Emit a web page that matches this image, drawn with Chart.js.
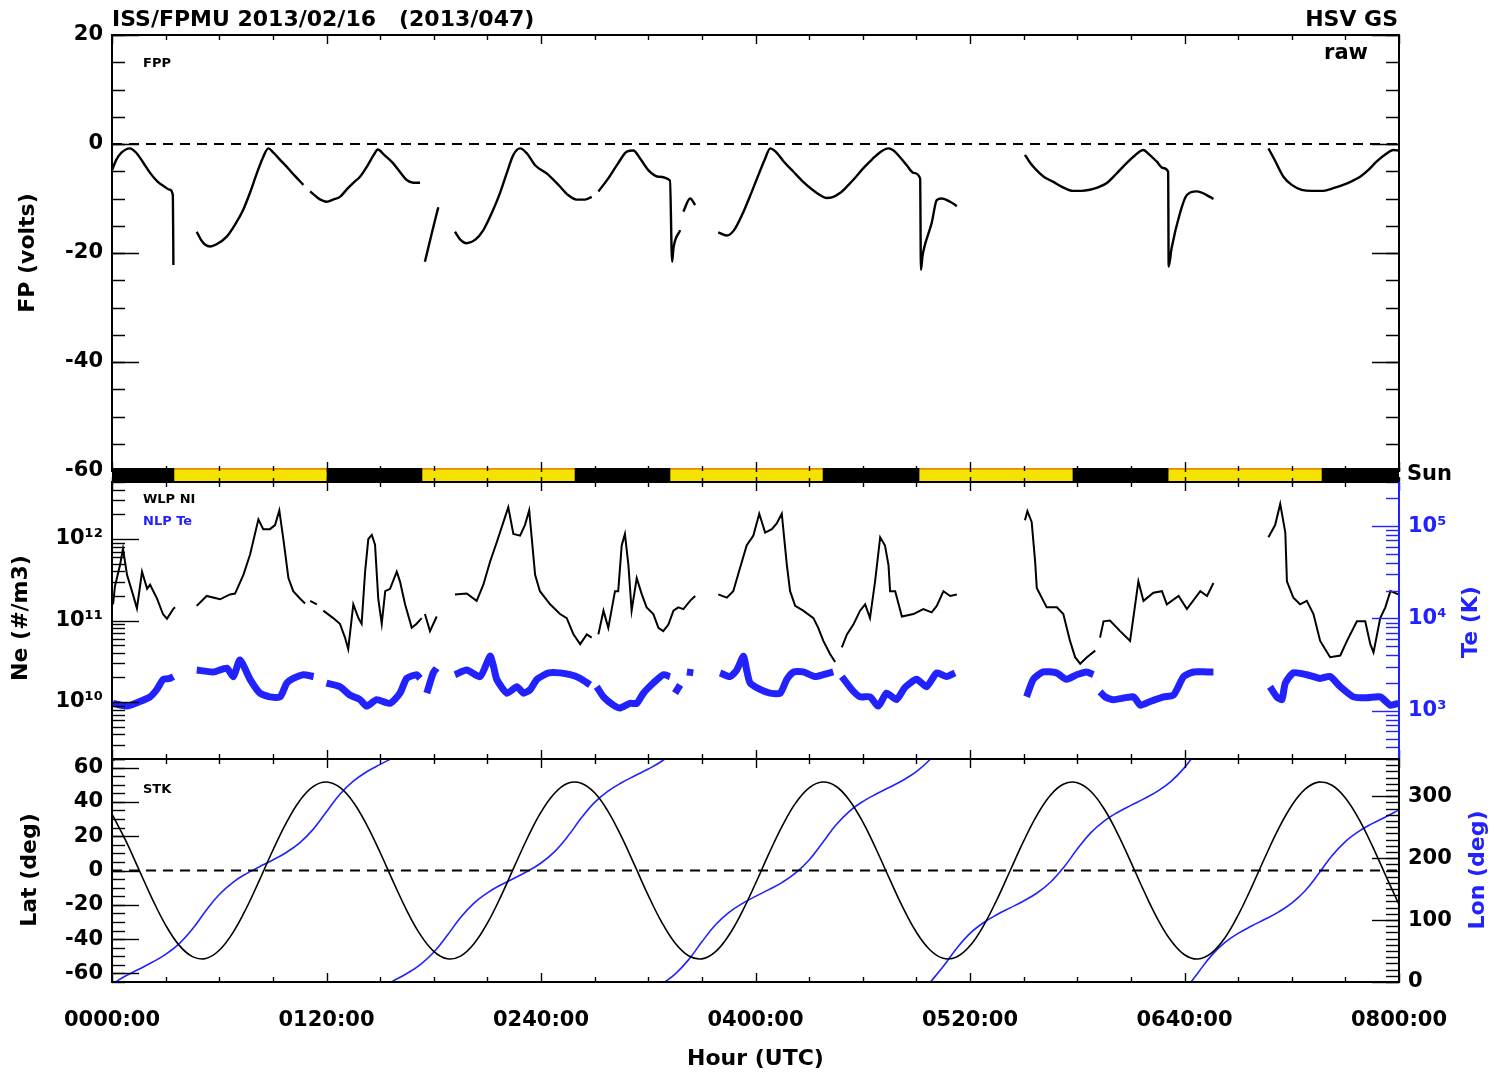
<!DOCTYPE html>
<html>
<head>
<meta charset="utf-8">
<title>ISS/FPMU 2013/02/16</title>
<script src="https://cdn.jsdelivr.net/npm/chart.js@4.4.1/dist/chart.umd.min.js"></script>
<style>
  html, body { margin: 0; padding: 0; background: #fff; }
  #wrap { position: relative; width: 1499px; height: 1077px; overflow: hidden;
          font-family: "DejaVu Sans", sans-serif; font-weight: bold; color: #000; }
  #wrap canvas { position: absolute; left: 0; top: 0; }
  .t { position: absolute; white-space: pre; line-height: 1; }
  .rot { transform: translate(-50%, -50%) rotate(-90deg); }
  .blue { color: #2222ff; }
</style>
</head>
<body>
<div id="wrap">
  <canvas id="fpChart" width="1499" height="1077"></canvas>
  <canvas id="neChart" width="1499" height="1077"></canvas>
  <canvas id="stkChart" width="1499" height="1077"></canvas>
  <canvas id="sunChart" width="1499" height="1077"></canvas>
  <div class="t" style="left:112px;top:8px;font-size:22px">ISS/FPMU 2013/02/16   (2013/047)</div>
  <div class="t" style="right:101px;top:8px;font-size:22px">HSV GS</div>
  <div class="t" style="right:131px;top:42px;font-size:21px">raw</div>
  <div class="t" style="left:143px;top:56px;font-size:13px">FPP</div>
  <div class="t" style="left:1407px;top:463px;font-size:21px">Sun</div>
  <div class="t" style="left:143px;top:492px;font-size:13px">WLP NI</div>
  <div class="t blue" style="left:143px;top:514px;font-size:13px">NLP Te</div>
  <div class="t" style="left:143px;top:782px;font-size:13px">STK</div>
  <div class="t rot" style="left:27px;top:253px;font-size:22px">FP (volts)</div>
  <div class="t rot" style="left:20px;top:618px;font-size:22px">Ne (#/m3)</div>
  <div class="t rot" style="left:29px;top:870px;font-size:22px">Lat (deg)</div>
  <div class="t rot blue" style="left:1470px;top:622px;font-size:22px">Te (K)</div>
  <div class="t rot blue" style="left:1477px;top:870px;font-size:22px">Lon (deg)</div>
</div>
<script>
// time axis, minutes after 0000 UTC
const T_MIN = 0, T_MAX = 480;
const timeTicks = [0, 80, 160, 240, 320, 400, 480];
const timeLabels = ['0000:00', '0120:00', '0240:00', '0400:00', '0520:00', '0640:00', '0800:00'];

// sunlit intervals (yellow part of the Sun bar)
const sunRise = [23.1, 115.6, 208.1, 301.0, 393.9];
const sunSet = [80.2, 172.7, 265.2, 358.4, 451.3];

// FPP floating potential (volts), null = data gap
const fpTime = [
  0, 1.5, 3.5, 6.7, 9.0, 11.5, 14.2, 17.0, 19.5, 21.6, 22.7, 22.9, null,
  31.6, 33.2, 34.8, 36.6, 39.0, 42.8, 46.0, 48.9, 51.5, 54.0, 56.2, 58.3, 60.2, 62.7, 65.2, 68.3, 71.4, null,
  73.9, 76.8, 78.6, 80.1, 82.5, 85.0, 88.0, 90.5, 92.5, 95.0, 97.5, 99.2, 101.5, 104.8, 107.5, 109.9, 112.4, 114.9, null,
  116.7, 119.2, 121.7, null,
  127.9, 129.8, 132.3, 135.4, 138.5, 141.6, 144.7, 147.2, 149.7, 152.2, 154.7, 157.8, 162.1, 166.5, 170.2, 173.3, 176.4, 178.9, null,
  181.4, 185.1, 188.8, 192.0, 194.4, 196.9, 200.0, 203.8, 208.1, 208.9, 209.4, 211.9, null,
  213.1, 215.6, 217.5, null,
  226.1, 229.3, 232.0, 235.0, 238.0, 241.0, 243.5, 245.5, 247.5, 250.5, 254.0, 257.5, 261.0, 264.5, 266.5, 268.5, 271.5, 274.5,
  277.5, 280.5, 283.5, 286.5, 289.5, 291.5, 293.5, 296.4, 299.0, 301.4, 301.7, 302.3, 303.2, 305.7, 307.6, 309.4, 312.6, 315.1, null,
  340.5, 342.5, 344.8, 347.5, 350.9, 354.5, 358.4, 361.5, 364.7, 368.0, 370.9, 374.5, 378.4, 381.5, 384.6, 387.0, 389.6, 392.0,
  393.9, 394.1, 395.2, 398.3, 400.8, 404.5, 409.5, 410.8, null,
  431.3, 433.5, 436.9, 440.0, 443.7, 447.5, 451.8, 455.5, 459.2, 462.5, 465.5, 468.5, 471.7, 475.0, 477.9, 480.0
];
const fpVolt = [
  -4.8, -3.0, -1.6, -0.8, -1.6, -3.3, -5.3, -6.9, -7.8, -8.4, -9.4, -22.2, null,
  -16.1, -17.6, -18.5, -18.8, -18.4, -17.0, -14.7, -12.1, -8.9, -5.4, -2.6, -0.8, -1.6, -2.9, -4.2, -5.9, -7.5, null,
  -8.7, -9.9, -10.4, -10.6, -10.2, -9.7, -8.1, -6.9, -6.0, -4.2, -2.1, -1.0, -2.0, -3.5, -5.2, -6.6, -7.1, -7.1, null,
  -21.6, -16.5, -11.6, null,
  -16.1, -17.5, -18.2, -17.6, -15.8, -12.7, -9.0, -5.4, -2.0, -0.8, -1.7, -3.9, -5.4, -7.5, -9.4, -10.2, -10.2, -9.7, null,
  -8.7, -6.3, -3.5, -1.4, -1.2, -2.6, -4.8, -6.0, -6.7, -21.6, -19.1, -15.8, null,
  -12.4, -10.0, -11.2, null,
  -16.2, -16.8, -15.8, -13.0, -9.5, -5.8, -2.8, -0.8, -1.4, -3.2, -5.0, -6.8, -8.3, -9.5, -9.9, -9.8, -9.0, -7.6,
  -6.0, -4.3, -2.8, -1.5, -0.8, -1.2, -2.2, -3.9, -5.3, -6.3, -23.1, -20.5, -18.5, -14.5, -10.3, -10.0, -10.6, -11.4, null,
  -2.0, -3.5, -4.8, -6.0, -6.9, -7.9, -8.6, -8.6, -8.4, -7.9, -7.2, -5.5, -3.5, -2.1, -1.1, -2.0, -3.2, -4.4,
  -5.1, -22.5, -19.1, -12.7, -9.4, -8.7, -9.7, -10.1, null,
  -0.8, -2.8, -6.0, -7.5, -8.4, -8.6, -8.6, -8.1, -7.5, -6.8, -6.0, -4.8, -3.2, -1.9, -1.1, -1.2
];

// WLP ion density (#/m3)
const neTime = [
  0.4, 1.1, 3.0, 4.1, 5.6, 7.8, 9.3, 11.2, 13.1, 14.2, 16.8, 19.0, 20.5, 22.8, 23.5, null,
  31.6, 35.3, 40.3, 44.0, 45.9, 49.0, 51.5, 54.6, 56.4, 58.9, 60.8, 62.4, 63.9, 65.8, 67.6, 70.1, 72.0, null,
  73.9, 76.4, null,
  78.8, 82.5, 85.0, 86.9, 88.1, 90.0, 91.9, 93.1, 94.4, 95.6, 96.9, 98.1, 99.3, 100.6, 101.9, 103.7, 106.2, 107.4, 109.3, 111.8, 113.6, 115.5, null,
  116.7, 118.6, 121.1, null,
  127.9, 132.3, 136.0, 138.5, 141.0, 143.5, 146.0, 147.8, 149.7, 152.2, 154.0, 155.6, 157.8, 159.6, 163.4, 167.1, 169.6, 172.1, 174.6, 177.1, 178.9, null,
  181.4, 183.3, 185.1, 187.6, 188.8, 190.1, 191.3, 192.6, 193.8, 195.7, 197.6, 199.4, 201.9, 203.8, 205.6, 207.5, 209.4, 211.2, 213.1, 215.6, 217.5, null,
  226.1, 229.3, 231.7, 234.2, 236.7, 239.2, 241.4, 243.6, 246.1, 247.9, 249.8, 251.7, 252.9, 254.8, 257.8, 261.6, 263.4, 265.3, 267.8, 269.7, null,
  272.2, 274.1, 276.5, 279.0, 280.9, 282.7, 284.6, 286.5, 288.3, 289.6, 290.2, 292.1, 294.6, 298.9, 302.6, 305.7, 307.6, 310.1, 312.6, 315.1, null,
  340.5, 341.4, 343.0, 344.3, 344.9, 348.6, 352.4, 354.8, 357.3, 359.2, 361.1, 363.6, 366.7, null,
  368.5, 369.8, 372.2, 376.0, 379.7, 380.9, 382.8, 384.7, 388.4, 391.6, 393.4, 397.8, 400.9, 405.9, 408.4, 410.8, null,
  431.3, 433.8, 435.7, 437.6, 438.2, 440.6, 443.1, 445.6, 448.1, 450.6, 454.3, 458.1, 460.6, 464.3, 467.4, 469.3, 470.5, 473.0, 474.9, 476.8, 479.8
];
const neDensity = [
  1.58e11, 2.63e11, 4.79e11, 7.59e11, 3.63e11, 2.09e11, 1.41e11, 3.98e11, 2.45e11, 2.75e11, 1.86e11, 1.20e11, 1.05e11, 1.38e11, 1.45e11, null,
  1.51e11, 2.0e11, 1.82e11, 2.09e11, 2.14e11, 3.63e11, 6.46e11, 1.74e12, 1.32e12, 1.32e12, 1.48e12, 2.24e12, 1.0e12, 3.31e11, 2.29e11, 1.86e11, 1.62e11, null,
  1.74e11, 1.58e11, null,
  1.32e11, 1.07e11, 9.12e10, 6.17e10, 4.47e10, 1.58e11, 1.07e11, 9.12e10, 3.98e11, 1.0e12, 1.12e12, 8.51e11, 1.86e11, 9.12e10, 2.29e11, 2.45e11, 3.98e11, 3.02e11, 1.58e11, 8.13e10, 9.12e10, 1.07e11, null,
  1.20e11, 7.41e10, 1.12e11, null,
  2.09e11, 2.14e11, 1.74e11, 2.75e11, 5.25e11, 9.12e11, 1.62e12, 2.45e12, 1.15e12, 1.10e12, 1.48e12, 2.24e12, 3.63e11, 2.29e11, 1.58e11, 1.20e11, 1.07e11, 6.76e10, 5.13e10, 6.76e10, 6.17e10, null,
  6.76e10, 1.32e11, 8.13e10, 2.29e11, 2.29e11, 8.32e11, 1.15e12, 4.79e11, 1.32e11, 3.31e11, 2.09e11, 1.45e11, 1.20e11, 8.13e10, 7.41e10, 8.91e10, 1.32e11, 1.45e11, 1.38e11, 1.74e11, 2.0e11, null,
  2.09e11, 1.91e11, 2.29e11, 4.37e11, 8.32e11, 1.10e12, 2.04e12, 1.20e12, 1.32e12, 1.55e12, 2.04e12, 4.79e11, 2.29e11, 1.51e11, 1.32e11, 1.07e11, 8.13e10, 5.62e10, 3.89e10, 3.09e10, null,
  4.68e10, 6.76e10, 8.91e10, 1.32e11, 1.58e11, 1.07e11, 3.02e11, 1.05e12, 8.32e11, 4.79e11, 2.29e11, 2.29e11, 1.12e11, 1.20e11, 1.38e11, 1.26e11, 1.51e11, 2.29e11, 2.0e11, 2.09e11, null,
  1.70e12, 2.19e12, 1.62e12, 5.25e11, 2.51e11, 1.45e11, 1.45e11, 1.20e11, 5.62e10, 3.55e10, 2.95e10, 3.55e10, 4.27e10, null,
  6.17e10, 9.77e10, 1.0e11, 7.41e10, 5.62e10, 1.07e11, 3.02e11, 1.74e11, 2.19e11, 2.29e11, 1.58e11, 2.0e11, 1.38e11, 2.29e11, 2.0e11, 2.88e11, null,
  1.05e12, 1.48e12, 2.69e12, 1.20e12, 3.02e11, 1.91e11, 1.58e11, 1.74e11, 1.20e11, 5.62e10, 3.55e10, 3.72e10, 5.62e10, 9.77e10, 9.77e10, 5.13e10, 4.07e10, 1.07e11, 1.45e11, 2.29e11, 2.09e11
];

// NLP electron temperature (K)
const teTime = [
  0.4, 5.5, 10.4, 14.2, 16.7, 19.1, 21.6, 22.9, null,
  31.6, 37.8, 42.8, 45.3, 47.7, 51.5, 55.2, 58.9, 62.7, 65.2, 67.6, 71.4, 75.2, null,
  80.0, 85.0, 88.7, 92.5, 95.0, 98.7, 103.7, 107.4, 109.9, 113.6, 114.9, null,
  117.4, 119.8, 121.1, null,
  127.9, 132.3, 137.3, 141.0, 142.3, 143.5, 147.3, 151.0, 153.5, 156.0, 158.5, 162.9, 167.1, 170.9, 174.6, 178.3, null,
  180.8, 183.3, 187.0, 189.5, 193.2, 195.7, 198.2, 201.9, 205.6, 208.1, null,
  210.0, 211.9, null,
  214.4, 216.8, null,
  226.8, 230.5, 233.0, 235.5, 236.7, 238.0, 241.7, 245.4, 249.2, 251.7, 254.2, 257.8, 262.2, 265.3, 269.0, null,
  272.2, 275.9, 279.0, 282.7, 285.8, 288.9, 292.6, 295.7, 300.1, 303.8, 307.6, 311.3, 314.4, null,
  341.1, 343.6, 347.3, 352.3, 356.0, 359.8, 363.5, 366.0, null,
  368.5, 370.4, 373.5, 381.0, 383.5, 387.2, 392.2, 395.9, 399.7, 403.4, 408.4, 410.8, null,
  431.9, 434.4, 436.3, 437.6, 440.6, 445.6, 450.6, 454.3, 458.1, 463.0, 468.0, 473.0, 476.8, 479.8
];
const teKelvin = [
  1202, 1122, 1259, 1413, 1698, 2188, 2239, 2344, null,
  2754, 2630, 2884, 2344, 3548, 2188, 1549, 1413, 1413, 1995, 2239, 2455, 2344, null,
  1995, 1820, 1479, 1318, 1122, 1318, 1202, 1549, 2239, 2455, 2239, null,
  1549, 2570, 2884, null,
  2455, 2754, 2344, 3890, 3020, 2188, 1549, 1820, 1549, 1698, 2188, 2570, 2570, 2455, 2239, 1905, null,
  1820, 1413, 1148, 1072, 1202, 1202, 1549, 1995, 2455, 2344, null,
  1549, 1905, null,
  2630, 2570, null,
  2570, 2344, 2754, 3890, 2754, 1995, 1698, 1549, 1549, 2188, 2630, 2630, 2344, 2455, 2630, null,
  2344, 1698, 1413, 1413, 1122, 1549, 1318, 1778, 2188, 1820, 2570, 2344, 2570, null,
  1413, 2188, 2630, 2570, 2188, 2455, 2630, 2455, null,
  1600, 1413, 1318, 1413, 1148, 1259, 1413, 1479, 2344, 2630, 2630, 2630, null,
  1820, 1413, 1318, 1995, 2570, 2455, 2239, 2344, 1820, 1413, 1380, 1413, 1148, 1202
];

// STK ground track, every 5 minutes
const stkTime = Array.from({ length: 97 }, (_, i) => i * 5);
const stkLat = [
  32.9, 17.8, 0.7, -16.5, -31.8, -43.5, -50.2, -51.3, -46.5, -36.5,
  -22.3, -5.6, 11.8, 27.8, 40.7, 48.9, 51.6, 48.4, 39.8, 26.6,
  10.5, -6.9, -23.5, -37.4, -47.1, -51.4, -49.9, -42.7, -30.7, -15.2,
  2.1, 19.1, 34.0, 44.9, 50.8, 50.9, 45.3, 34.5, 19.7, 2.8,
  -14.5, -30.1, -42.3, -49.7, -51.5, -47.4, -37.9, -24.1, -7.6, 9.8,
  26.0, 39.4, 48.2, 51.6, 49.1, 41.0, 28.3, 12.4, -4.9, -21.7,
  -36.0, -46.2, -51.2, -50.4, -43.9, -32.3, -17.1, 0.0, 17.1, 32.3,
  43.9, 50.4, 51.2, 46.2, 36.0, 21.7, 4.9, -12.4, -28.3, -41.0,
  -49.1, -51.6, -48.2, -39.4, -26.0, -9.8, 7.6, 24.1, 37.9, 47.4,
  51.5, 49.7, 42.3, 30.1, 14.5, -2.8, -19.7
];
const stkLon = [
  356.5, 9.6, 20.7, 31.8, 44.6, 61.6, 85.5, 114.9, 141.3, 160.6,
  174.6, 186.0, 196.9, 209.1, 224.6, 246.4, 274.9, 303.0, 324.2, 339.4,
  351.3, 2.2, 13.8, 28.1, 47.9, 74.9, 104.1, 127.4, 144.0, 156.6,
  167.5, 178.7, 192.1, 210.0, 235.1, 264.6, 290.0, 308.2, 321.6, 332.9,
  343.8, 356.4, 12.7, 35.7, 64.8, 92.0, 112.1, 126.6, 138.2, 149.1,
  160.9, 176.0, 196.9, 224.8, 253.4, 275.5, 291.3, 303.5, 314.4, 325.8,
  339.6, 358.7, 24.9, 54.2, 78.5, 95.7, 108.6, 119.7, 130.8, 143.7,
  161.0, 185.2, 214.6, 240.8, 259.8, 273.7, 285.1, 296.0, 308.2, 323.9,
  346.1, 14.7, 42.6, 63.5, 78.5, 90.3, 101.2, 112.9, 127.4, 147.4,
  174.7, 203.8, 226.7, 243.1, 255.6, 266.5, 277.8
];

// axis ticks
const fpTicks = [-60, -40, -20, 0, 20];
const neTicks = [1e10, 1e11, 1e12];
const neTickLabels = ['10\u00b9\u2070', '10\u00b9\u00b9', '10\u00b9\u00b2'];
const teTicks = [1e3, 1e4, 1e5];
const teTickLabels = ['10\u00b3', '10\u2074', '10\u2075'];
const latTicks = [-60, -40, -20, 0, 20, 40, 60];
const lonTicks = [0, 100, 200, 300];

const BLUE = '#2222ff';
const TICK_FONT = { family: 'DejaVu Sans', size: 21, weight: 'bold' };
Chart.defaults.font.family = "'DejaVu Sans', sans-serif";

const steps = (a, b, step) => {
  const out = [];
  for (let v = a; v <= b + 1e-9; v += step) out.push(+v.toFixed(6));
  return out;
};
const logMinor = (lo, hi) => {
  const out = [];
  for (let d = Math.floor(Math.log10(lo)); d <= Math.ceil(Math.log10(hi)); d++) {
    for (let m = 2; m <= 9; m++) {
      const v = m * Math.pow(10, d);
      if (v >= lo && v <= hi) out.push(v);
    }
  }
  return out;
};
const pts = (ts, vs) => ts.map((t, i) => ({ x: t, y: vs[i] }));

// longitude wraps 360 -> 0: split the line, carrying each neighbour over the edge
function wrapped(ts, vs) {
  const out = [{ x: ts[0], y: vs[0] }];
  for (let i = 1; i < vs.length; i++) {
    if (vs[i] < vs[i - 1] - 180) {
      out.push({ x: ts[i], y: vs[i] + 360 }, { x: ts[i], y: null }, { x: ts[i - 1], y: vs[i - 1] - 360 });
    }
    out.push({ x: ts[i], y: vs[i] });
  }
  return out;
}

// IDL style frame: inward ticks on every side + box
const idlFrame = {
  id: 'idlFrame',
  afterDatasetsDraw(chart, args, opts) {
    const { ctx, chartArea: a } = chart;
    ctx.save();
    ctx.lineWidth = 1.4;
    (opts.marks || []).forEach(m => {
      const s = chart.scales[m.scale];
      ctx.strokeStyle = m.color || '#000';
      [[m.major, m.majorLen], [m.minor, m.minorLen]].forEach(([vals, len]) => {
        (vals || []).forEach(v => {
          const p = Math.round(s.getPixelForValue(v)) + 0.5;
          ctx.beginPath();
          m.sides.forEach(side => {
            if (side === 'left') { ctx.moveTo(a.left, p); ctx.lineTo(a.left + len, p); }
            else if (side === 'right') { ctx.moveTo(a.right, p); ctx.lineTo(a.right - len, p); }
            else if (side === 'top') { ctx.moveTo(p, a.top); ctx.lineTo(p, a.top + len); }
            else { ctx.moveTo(p, a.bottom); ctx.lineTo(p, a.bottom - len); }
          });
          ctx.stroke();
        });
      });
    });
    if (opts.border) {
      const b = opts.border;
      ctx.lineWidth = 2;
      const edge = (c, x1, y1, x2, y2) => {
        ctx.strokeStyle = c; ctx.beginPath(); ctx.moveTo(x1, y1); ctx.lineTo(x2, y2); ctx.stroke();
      };
      edge(b.top, a.left - 1, a.top, a.right + 1, a.top);
      edge(b.bottom, a.left - 1, a.bottom, a.right + 1, a.bottom);
      edge(b.left, a.left, a.top, a.left, a.bottom);
      edge(b.right, a.right, a.top, a.right, a.bottom);
    }
    ctx.restore();
  }
};

const timeMarks = {
  scale: 'x', sides: ['top', 'bottom'],
  major: timeTicks, majorLen: 9,
  minor: steps(T_MIN, T_MAX, 20).filter(v => !timeTicks.includes(v)), minorLen: 5
};
const blackBox = { top: '#000', bottom: '#000', left: '#000', right: '#000' };
const hiddenTime = { type: 'linear', min: T_MIN, max: T_MAX, display: false };
const common = {
  responsive: false,
  animation: false,
  devicePixelRatio: 1,
  events: [],
  elements: { point: { radius: 0 }, line: { tension: 0 } },
};
function yScale(extra) {
  return Object.assign({
    grid: { display: false, drawTicks: false },
    border: { display: false },
  }, extra, {
    ticks: Object.assign({ font: TICK_FONT, color: '#000', padding: 9, autoSkip: false }, extra.ticks || {})
  });
}

// ---- panel 1 : FP ----
new Chart(document.getElementById('fpChart'), {
  type: 'line',
  data: {
    datasets: [
      { data: [{ x: T_MIN, y: 0 }, { x: T_MAX, y: 0 }], borderColor: '#000', borderWidth: 2.2, borderDash: [10, 7] },
      { data: pts(fpTime, fpVolt), borderColor: '#000', borderWidth: 2.4, cubicInterpolationMode: 'monotone' }
    ]
  },
  options: Object.assign({}, common, {
    layout: { padding: { top: 35, bottom: 1077 - 471, left: 0, right: 100 } },
    plugins: {
      legend: { display: false }, tooltip: { enabled: false },
      idlFrame: {
        border: blackBox,
        marks: [
          timeMarks,
          { scale: 'y', sides: ['left', 'right'], major: fpTicks, majorLen: 27, minor: steps(-60, 20, 5), minorLen: 13 }
        ]
      }
    },
    scales: {
      x: hiddenTime,
      y: yScale({
        type: 'linear', min: -60, max: 20,
        afterFit: s => { s.width = 112; },
        afterBuildTicks: s => { s.ticks = fpTicks.map(v => ({ value: v })); },
        ticks: { callback: v => String(v) }
      })
    }
  }),
  plugins: [idlFrame]
});

// ---- panel 2 : Ne / Te ----
new Chart(document.getElementById('neChart'), {
  type: 'line',
  data: {
    datasets: [
      { data: pts(teTime, teKelvin), yAxisID: 'y2', borderColor: BLUE, borderWidth: 7, tension: 0.2 },
      { data: pts(neTime, neDensity), yAxisID: 'y', borderColor: '#000', borderWidth: 2 }
    ]
  },
  options: Object.assign({}, common, {
    layout: { padding: { top: 482, bottom: 1077 - 759, left: 0, right: 0 } },
    plugins: {
      legend: { display: false }, tooltip: { enabled: false },
      idlFrame: {
        border: { top: '#000', bottom: '#000', left: '#000', right: BLUE },
        marks: [
          timeMarks,
          { scale: 'y', sides: ['left'], major: neTicks, majorLen: 27, minor: logMinor(2e9, 5e12), minorLen: 13 },
          { scale: 'y2', sides: ['right'], color: BLUE, major: teTicks, majorLen: 27, minor: logMinor(300, 3e5), minorLen: 13 }
        ]
      }
    },
    scales: {
      x: hiddenTime,
      y: yScale({
        type: 'logarithmic', position: 'left', min: 2e9, max: 5e12,
        afterFit: s => { s.width = 112; },
        afterBuildTicks: s => { s.ticks = neTicks.map(v => ({ value: v })); },
        ticks: { callback: (v, i) => neTickLabels[i] }
      }),
      y2: yScale({
        type: 'logarithmic', position: 'right', min: 300, max: 3e5,
        afterFit: s => { s.width = 100; },
        afterBuildTicks: s => { s.ticks = teTicks.map(v => ({ value: v })); },
        ticks: { color: BLUE, callback: (v, i) => teTickLabels[i] }
      })
    }
  }),
  plugins: [idlFrame]
});

// ---- panel 3 : STK lat / lon ----
new Chart(document.getElementById('stkChart'), {
  type: 'line',
  data: {
    datasets: [
      { data: [{ x: T_MIN, y: 0 }, { x: T_MAX, y: 0 }], yAxisID: 'y', borderColor: '#000', borderWidth: 2.2, borderDash: [10, 7] },
      { data: pts(stkTime, stkLat), yAxisID: 'y', borderColor: '#000', borderWidth: 1.6, tension: 0.4 },
      { data: wrapped(stkTime, stkLon), yAxisID: 'y2', borderColor: BLUE, borderWidth: 1.6, tension: 0.4 }
    ]
  },
  options: Object.assign({}, common, {
    layout: { padding: { top: 759, bottom: 0, left: 0, right: 0 } },
    plugins: {
      legend: { display: false }, tooltip: { enabled: false },
      idlFrame: {
        border: blackBox,
        marks: [
          timeMarks,
          { scale: 'y', sides: ['left'], major: latTicks, majorLen: 27, minor: steps(-65, 65, 5), minorLen: 13 },
          { scale: 'y2', sides: ['right'], major: lonTicks, majorLen: 27, minor: steps(0, 360, 10), minorLen: 13 }
        ]
      }
    },
    scales: {
      x: {
        type: 'linear', min: T_MIN, max: T_MAX, position: 'bottom',
        grid: { display: false, drawTicks: false }, border: { display: false },
        afterFit: s => { s.height = 95; },
        afterBuildTicks: s => { s.ticks = timeTicks.map(v => ({ value: v })); },
        ticks: { font: TICK_FONT, color: '#000', padding: 26, maxRotation: 0, autoSkip: false, callback: (v, i) => timeLabels[i] },
        title: { display: true, text: 'Hour (UTC)', color: '#000', font: { family: 'DejaVu Sans', size: 22, weight: 'bold' }, padding: { top: 0, bottom: 5 } }
      },
      y: yScale({
        type: 'linear', position: 'left', min: -65, max: 65,
        afterFit: s => { s.width = 112; },
        afterBuildTicks: s => { s.ticks = latTicks.map(v => ({ value: v })); },
        ticks: { callback: v => String(v) }
      }),
      y2: yScale({
        type: 'linear', position: 'right', min: 0, max: 360,
        afterFit: s => { s.width = 100; },
        afterBuildTicks: s => { s.ticks = lonTicks.map(v => ({ value: v })); },
        ticks: { callback: v => String(v) }
      })
    }
  }),
  plugins: [idlFrame]
});

// ---- Sun bar (eclipse black, sunlit yellow) ----
const sunlit = sunRise.map((r, i) => ({ x: [r, sunSet[i]], y: 'Sun' }));
const eclipse = [];
let lastSet = T_MIN;
sunRise.forEach((r, i) => { eclipse.push({ x: [lastSet, r], y: 'Sun' }); lastSet = sunSet[i]; });
eclipse.push({ x: [lastSet, T_MAX], y: 'Sun' });

new Chart(document.getElementById('sunChart'), {
  type: 'bar',
  data: {
    labels: ['Sun'],
    datasets: [
      { data: eclipse, backgroundColor: '#000', borderWidth: 0, grouped: false },
      { data: sunlit, backgroundColor: '#f6e200', borderColor: '#e38c00',
        borderWidth: { top: 2, right: 0, bottom: 0, left: 0 }, borderSkipped: false, grouped: false }
    ]
  },
  options: Object.assign({}, common, {
    indexAxis: 'y',
    layout: { padding: { top: 468, bottom: 1077 - 481, left: 112, right: 100 } },
    datasets: { bar: { categoryPercentage: 1, barPercentage: 1 } },
    plugins: {
      legend: { display: false }, tooltip: { enabled: false },
      idlFrame: { marks: [Object.assign({}, timeMarks, { majorLen: 4, minorLen: 3 })] }
    },
    scales: {
      x: hiddenTime,
      y: { type: 'category', display: false }
    }
  }),
  plugins: [idlFrame]
});
</script>
</body>
</html>
